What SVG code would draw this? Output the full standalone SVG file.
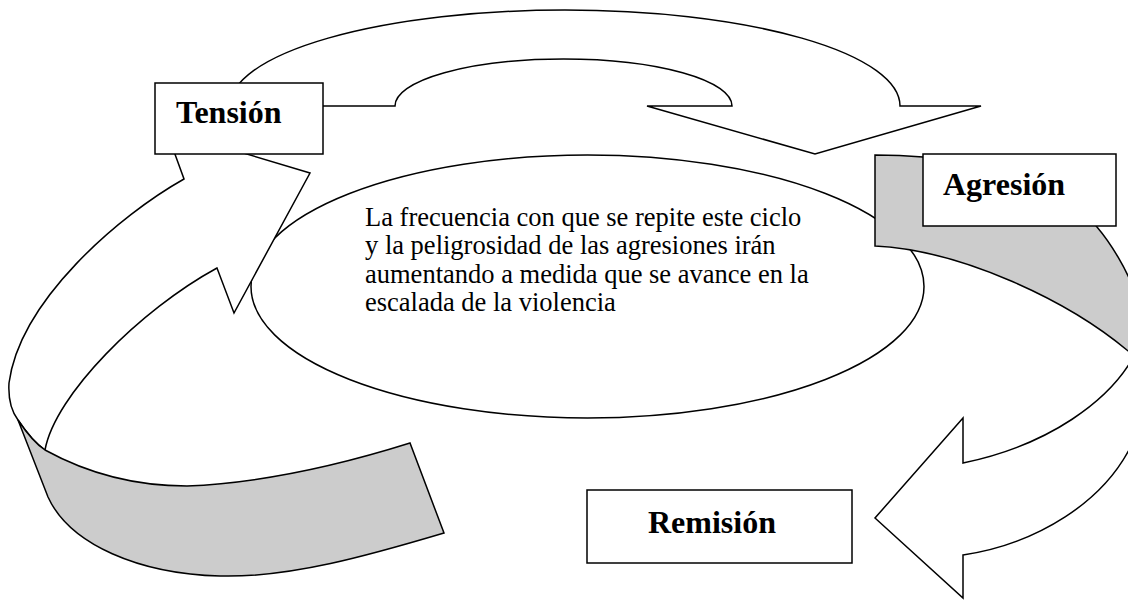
<svg xmlns="http://www.w3.org/2000/svg" width="1128" height="600" viewBox="0 0 1128 600">
<style>
.sh{stroke:#000;stroke-width:1.5;stroke-linejoin:miter}
.w{fill:#fff}
.g{fill:#cccccc}
.box{fill:#fff;stroke:#000;stroke-width:1.5}
.lbl{font-family:"Liberation Serif","Times New Roman",serif;font-weight:bold;font-size:32px;fill:#000}
.txt{font-family:"Liberation Serif","Times New Roman",serif;font-size:26.5px;fill:#000}
</style>
<rect width="1128" height="600" fill="#fff"/>
<g id="nota">
<ellipse class="sh w" cx="587.5" cy="286.5" rx="336.5" ry="131.5"/>
<text class="txt" x="365" y="226">La frecuencia con que se repite este ciclo</text>
<text class="txt" x="365" y="254.3">y la peligrosidad de las agresiones irán</text>
<text class="txt" x="365" y="282.6">aumentando a medida que se avance en la</text>
<text class="txt" x="365" y="311">escalada de la violencia</text>
</g>
<g id="connectors">
<path class="sh w" d="M18,420 C12,412 8,400 9,383 C20,300 120,215 184,179 L172,146 L220,146 L310,173 L234,313 L217,268 C140,310 55,395 45,450 C36,444 28,435 18,420 Z"/>
<path class="sh g" d="M18,420 C28,435 36,444 45,450 C85,472 130,486 187,486 C260,483 340,465 410,443 L444,533 C370,555 290,578 220,576 C140,574 70,545 48,497 Z"/>
<path class="sh w" d="M230,106 L323,106 L395,106 A168.5,47 0 0 1 732,106 L647,106 L815,154 L981,106 L900,106 A335,96 0 0 0 230,106 Z"/>
<path class="sh g" d="M875,155 Q900,155 923,157 L1000,160 L1000,205 L1080,205 L1097,227 C1125,260 1160,330 1134,356 C1070,300 960,250 875,246 Z"/>
<path class="sh w" d="M1134,356 C1110,400 1050,445 963,463 L963,418 L875,518 L963,598 L963,555 C1030,545 1110,505 1138,430 L1160,430 L1160,356 Z"/>
</g>
<g id="tension">
<rect class="box" x="155" y="83" width="168" height="71"/>
<text class="lbl" x="176" y="123">Tensión</text>
</g>
<g id="agresion">
<rect class="box" x="923" y="154" width="193" height="72"/>
<text class="lbl" x="943" y="195">Agresión</text>
</g>
<g id="remision">
<rect class="box" x="587" y="490" width="265" height="73"/>
<text class="lbl" x="648" y="533">Remisión</text>
</g>
</svg>
